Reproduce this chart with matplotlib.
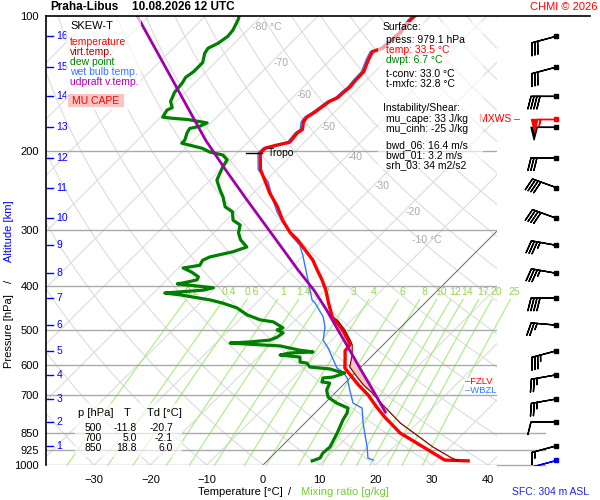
import numpy as np
import matplotlib
matplotlib.use('Agg')
import matplotlib.pyplot as plt
from matplotlib.patches import Rectangle
from matplotlib.ticker import NullLocator

plt.rcParams['font.family'] = ['Liberation Sans', 'DejaVu Sans']

# temperature profile (hPa, °C)
t_p = [100, 102, 109, 118, 120, 125, 133, 139, 144, 148, 152, 155, 159, 164, 168, 172, 179, 182, 191, 194,
       197, 202, 220, 232, 248, 266, 285, 304, 315, 332, 350, 368, 387, 408, 436, 468, 475, 500, 527, 540,
       557, 578, 608, 630, 663, 698, 743, 782, 849, 917, 975, 979]
t_c = [-52.8, -52.9, -52.4, -52.8, -54.0, -53.3, -52.0, -51.9, -51.7, -51.9, -52.0, -52.8, -53.1, -53.5, -54.0,
       -53.8, -52.6, -52.9, -52.6, -54.4, -55.9, -55.9, -52.9, -50.3, -47.1, -43.3, -40.0, -36.4, -33.9, -30.7,
       -27.5, -25.0, -22.4, -19.9, -17.1, -14.0, -13.0, -9.9, -7.1, -5.9, -5.7, -4.4, -2.7, -0.5, 2.7,
       6.2, 9.9, 13.1, 18.7, 25.8, 31.4, 35.7]

# virtual temperature (lower part)
tv_p = [475, 500, 527, 540, 569, 605, 637, 663, 691, 724, 806, 912, 965, 979]
tv_c = [-12.6, -9.5, -6.7, -5.5, -3.7, -2.0, 1.1, 3.6, 6.6, 9.6, 16.9, 27.0, 32.3, 33.9]

# dew point
td_p = [100, 102, 107.5, 111, 115, 118, 121, 127, 133, 137, 141, 148, 151, 155, 160, 162, 168, 169, 170, 173,
        176, 178, 182, 189, 192, 194, 197, 201, 204, 209, 218, 232, 244, 253, 266, 273, 285, 292, 304, 315,
        327, 335, 344, 350, 359, 362, 364, 372, 381, 387, 393, 395, 403, 408, 412, 414, 418, 425, 429, 436,
        447, 463, 475, 480, 495, 500, 508, 519, 527, 532, 535, 540, 543, 555, 560, 563, 569, 575, 590, 593,
        605, 611, 621, 624, 637, 640, 653, 657, 681, 706, 728, 747, 766, 794, 849, 912, 940, 965, 979]
td_c = [-84.0, -83.5, -82.6, -82.4, -82.9, -83.8, -83.5, -82.2, -82.2, -82.6, -82.2, -81.9, -81.5, -81.0, -79.6,
        -80.1, -79.6, -77.6, -74.8, -70.7, -71.4, -72.8, -72.5, -71.6, -71.6, -69.8, -67.1, -65.0, -62.2, -60.6,
        -60.0, -58.8, -56.5, -54.7, -52.6, -50.4, -48.8, -46.7, -45.6, -44.0, -41.6, -43.2, -46.4, -47.1, -46.7,
        -48.1, -49.2, -46.9, -44.9, -44.6, -46.5, -47.4, -40.3, -41.7, -46.0, -48.0, -44.9, -40.9, -38.7, -35.9,
        -32.5, -29.5, -26.3, -23.6, -20.8, -21.5, -19.9, -20.2, -21.0, -24.2, -27.5, -21.8, -18.1, -13.9, -11.2,
        -15.1, -16.5, -12.6, -11.7, -10.3, -9.1, -5.2, -2.8, -1.8, -3.2, -4.8, -4.3, -2.7, -2.0, -0.5,
        2.1, 5.0, 5.7, 6.2, 7.5, 8.7, 8.5, 8.9, 8.0]

# wet bulb temperature
tw_p = [100, 102, 109, 118, 120, 125, 133, 139, 144, 148, 152, 155, 159, 164, 168, 172, 179, 182, 191, 194,
        197, 202, 220, 234, 253, 273, 288, 297, 311, 324, 341, 362, 387, 429, 436, 468, 493, 527, 549, 575,
        608, 621, 640, 681, 728, 747, 806, 849, 912, 965, 975]
tw_c = [-53.2, -53.3, -52.8, -53.2, -54.4, -53.7, -52.4, -52.3, -52.1, -52.3, -52.4, -53.2, -53.5, -53.9, -54.4,
        -54.2, -53.0, -53.3, -53.0, -54.8, -56.3, -56.3, -53.3, -49.4, -46.0, -42.5, -39.6, -37.7, -35.2, -32.5,
        -30.2, -27.7, -24.9, -20.6, -19.5, -15.6, -13.5, -11.5, -9.2, -6.9, -4.1, -2.3, -0.5, 2.1, 5.0,
        7.5, 10.3, 12.4, 15.3, 17.4, 18.7]

# MU parcel (virtual temperature)
pc_p = [100, 125, 154, 189, 220, 257, 315, 368, 408, 452, 500, 555, 614, 681, 762]
pc_c = [-102.1, -90.1, -78.9, -67.9, -59.1, -49.9, -37.7, -28.4, -22.0, -16.2, -10.7, -5.0, 0.5, 6.2, 12.3]

# wind (km levels, then surface)
alt_km = [1, 2, 3, 4, 5, 6, 7, 8, 9, 10, 11, 12, 13, 14, 15, 16]
alt_p = [907, 802, 713, 630, 557, 488, 425, 374, 324, 282, 241, 207, 177, 151, 130, 111]
wdir = [255, 270, 260, 260, 255, 275, 270, 280, 280, 290, 290, 270, 270, 270, 255, 255]
wspd = [15, 10, 25, 25, 35, 25, 40, 35, 35, 40, 40, 30, 50, 40, 30, 30]
sfc_p, sfc_dir, sfc_spd = 975, 255, 5
mxws_p, mxws_dir, mxws_spd = 170, 270, 55

trop_p, trop_t = 202, -55.9
fzlv_p, wbzl_p = 651, 683

tab_p = ['500', '700', '850']
tab_t = ['-11.8', '5.0', '18.8']
tab_td = ['-20.7', '-2.1', '6.0']

p_levels = [100, 200, 300, 400, 500, 600, 700, 850, 925, 1000]
mr_vals = [0.2, 0.4, 0.6, 1, 1.4, 2, 3, 4, 6, 8, 10, 12, 14, 17, 20, 25]
iso_lbl_t = [-80, -70, -60, -50, -40, -30, -20, -10]
iso_lbl_p = [106, 127, 150, 177, 206, 239, 273, 315]
iso_lbl_s = ['-80 °C', '-70', '-60', '-50', '-40', '-30', '-20', '-10 °C']

SKEW = 34.64  # °C of shift per unit ln(1000/p)


def skx(t, p):
    return np.asarray(t, float) + SKEW * np.log(1000.0 / np.asarray(p, float))


def fx(px):
    return px / 600.0


def fy(py):
    return 1 - py / 500.0


fig = plt.figure(figsize=(6, 5), dpi=100)
ax = fig.add_axes([fx(46), fy(465), 451 / 600, 449 / 500])
ax.set_yscale('log')
ax.set_ylim(1000, 100)
ax.set_xlim(-38.54, 41.56)

# background: isotherms, dry adiabats
pp = np.geomspace(1000, 100, 80)
for t0 in range(-130, 50, 10):
    ax.plot(skx(t0, pp), pp, color='#dcdcdc', lw=0.8, zorder=1)
for th in range(-30, 200, 10):
    tt = (th + 273.15) * (pp / 1000.0) ** 0.2857 - 273.15
    ax.plot(skx(tt, pp), pp, color='#dcdcdc', lw=0.8, zorder=1)
ax.plot(skx(0, pp), pp, color='#606060', lw=0.6, zorder=1.3)

# mixing ratio lines
pm = np.geomspace(1000, 428, 40)
for w in mr_vals:
    e = w * pm / (622.0 + w)
    le = np.log(e / 6.112)
    td = 243.5 * le / (17.67 - le)
    ax.plot(skx(td, pm), pm, color='#a6ee7e', lw=0.8, zorder=1.2, clip_on=False)
    e0 = w * 412 / (622.0 + w)
    l0 = np.log(e0 / 6.112)
    ax.text(skx(243.5 * l0 / (17.67 - l0), 412), 412, f'{w:g}', color='#96d650', fontsize=7.5,
            ha='center', va='center', zorder=1.4)

for t, p, s in zip(iso_lbl_t, iso_lbl_p, iso_lbl_s):
    off = -1.0 if t == -10 else 0.3
    ha = 'center' if t == -10 else 'left'
    ax.text(skx(t, p) + off, p, s, color='#a8a8a8', fontsize=7.5, ha=ha, va='center', zorder=1.4)

# isobars
for p in p_levels[1:]:
    ax.axhline(p, color='#aaaaaa', lw=1, zorder=1.5)
for p in p_levels[-3:]:
    ax.plot([41.56, 50.1], [p, p], color='#aaaaaa', lw=1, clip_on=False, zorder=1.5)
ax.plot([-38.54, 58.1], [100, 100], color='k', lw=1.2, clip_on=False, zorder=7)

# CAPE area
pg = np.geomspace(560, 710, 80)
lp = np.log(pg)
tv_i = np.interp(lp, np.log(tv_p), tv_c)
pc_i = np.interp(lp, np.log(pc_p), pc_c)
ax.fill_betweenx(pg, skx(tv_i, pg), skx(pc_i, pg), where=pc_i > tv_i, color='#f6c4c4', zorder=2.5, lw=0)

ax.plot(skx(tw_c, tw_p), tw_p, color='#3377ff', lw=1, zorder=3)
ax.plot(skx(td_c, td_p), td_p, color='#008000', lw=2.3, zorder=4)
ax.plot(skx(t_c, t_p), t_p, color='#ff0000', lw=2.4, zorder=5)
ax.plot(skx(tv_c, tv_p), tv_p, color='#8b0000', lw=0.9, zorder=5.5)
ax.plot(skx(pc_c, pc_p), pc_p, color='#a000a8', lw=2, zorder=6)

# tropopause mark
xt = skx(trop_t, trop_p)
ax.plot([xt - 2.6, xt + 0.4], [trop_p, trop_p], color='k', lw=1, zorder=6.5)
ax.text(xt + 1.3, trop_p, 'Tropo', fontsize=7.5, va='center', ha='left', zorder=6.5)

# altitude ticks
for km, p in zip(alt_km, alt_p):
    ax.plot([-38.3, -37.3], [p, p], color='#0000ff', lw=1, zorder=7, clip_on=False)
    ax.text(-36.7, p, str(km), color='#0000ff', fontsize=7.5, va='center', ha='left', zorder=7)

# FZLV / WBZL
ytr = ax.get_yaxis_transform()
ax.add_patch(Rectangle((0.926, 640), 0.11, 55, transform=ytr, facecolor='white', alpha=0.85,
                       edgecolor='none', zorder=7, clip_on=False))
ax.text(0.929, fzlv_p, '–FZLV', transform=ytr, color='#ff0000', fontsize=6.8, va='center', zorder=8,
        clip_on=False)
ax.text(0.929, wbzl_p, '–WBZL', transform=ytr, color='#3377ff', fontsize=6.8, va='center', zorder=8,
        clip_on=False)

for s in ['top', 'right', 'bottom']:
    ax.spines[s].set_visible(False)
ax.spines['left'].set_linewidth(1.2)
ax.set_yticks(p_levels)
ax.set_yticklabels([str(v) for v in p_levels])
ax.yaxis.set_minor_locator(NullLocator())
ax.set_xticks(list(range(-30, 41, 10)))
ax.tick_params(axis='both', length=0, labelsize=8)
ax.tick_params(axis='y', pad=5)
ax.tick_params(axis='x', pad=7)
ax.set_facecolor('white')

# wind barbs column
axw = fig.add_axes([fx(497), fy(465), 103 / 600, 449 / 500])
axw.set_yscale('log')
axw.set_ylim(1000, 100)
axw.set_xlim(0, 103)
axw.axis('off')
bsz = dict(spacing=0.12, height=0.5, width=0.25)
rad = np.deg2rad(wdir)
u = -np.array(wspd) * np.sin(rad)
v = -np.array(wspd) * np.cos(rad)
xb = np.full(len(alt_p), 59.0)
axw.barbs(xb, alt_p, u, v, length=6, lw=1, color='k', pivot='tip', flip_barb=True, sizes=bsz)
axw.plot(xb, alt_p, 's', ms=2.5, color='k')
rs = np.deg2rad(sfc_dir)
axw.barbs([59.0], [sfc_p], [-sfc_spd * np.sin(rs)], [-sfc_spd * np.cos(rs)], length=6, lw=1,
          color='#0000ee', pivot='tip', flip_barb=True, sizes=bsz)
axw.plot([59.0], [sfc_p], 's', ms=2.5, color='#0000ee')
rm = np.deg2rad(mxws_dir)
axw.barbs([59.0], [mxws_p], [-mxws_spd * np.sin(rm)], [-mxws_spd * np.cos(rm)], length=6, lw=1,
          color='#ff0000', pivot='tip', flip_barb=True, sizes=bsz, zorder=3)
axw.plot([59.0], [mxws_p], 's', ms=2.5, color='#ff0000')
axw.text(23, mxws_p, 'MXWS –', color='#ff0000', fontsize=7.5, ha='right', va='center')

# boxes over the plot
fig.add_artist(Rectangle((fx(66), fy(110)), 75 / 600, 93 / 500, transform=fig.transFigure,
                         facecolor='white', alpha=0.7, edgecolor='none'))
fig.add_artist(Rectangle((fx(378), fy(170)), 105 / 600, 148 / 500, transform=fig.transFigure,
                         facecolor='white', alpha=0.62, edgecolor='none'))
fig.add_artist(Rectangle((fx(75), fy(457)), 107 / 600, 54 / 500, transform=fig.transFigure,
                         facecolor='white', alpha=0.65, edgecolor='none'))
fig.add_artist(Rectangle((fx(68), fy(107)), 56 / 600, 13 / 500, transform=fig.transFigure,
                         facecolor='#f8c4c4', edgecolor='none'))

leg = [('SKEW-T', 'black', 26), ('temperature', '#ff0000', 42), ('virt.temp.', '#a00000', 52),
       ('dew point', '#008000', 62), ('wet bulb temp.', '#3377ff', 72), ('udpraft v.temp.', '#b000b8', 82)]
for s, c, y in leg:
    fig.text(fx(70), fy(y), s, color=c, fontsize=7.5 if y > 30 else 8, va='center', ha='left')
fig.text(fx(96), fy(101), 'MU CAPE', color='#ff0000', fontsize=7.5, va='center', ha='center')

info = [('Surface:', 'black', 383, 27), ('press: 979.1 hPa', 'black', 386, 40),
        ('temp: 33.5 °C', '#ff0000', 386, 50), ('dwpt: 6.7 °C', '#008000', 386, 60),
        ('t-conv: 33.0 °C', 'black', 386, 74), ('t-mxfc: 32.8 °C', 'black', 386, 84),
        ('Instability/Shear:', 'black', 383, 108), ('mu_cape: 33 J/kg', 'black', 386, 119),
        ('mu_cinh: -25 J/kg', 'black', 386, 129), ('bwd_06: 16.4 m/s', 'black', 386, 145),
        ('bwd_01: 3.2 m/s', 'black', 386, 155), ('srh_03: 34 m2/s2', 'black', 386, 165)]
for s, c, x, y in info:
    fig.text(fx(x), fy(y), s, color=c, fontsize=7.5, va='center', ha='left')

fig.text(fx(78), fy(413), 'p [hPa]', fontsize=8, va='center', ha='left')
fig.text(fx(127), fy(413), 'T', fontsize=8, va='center', ha='center')
fig.text(fx(147), fy(413), 'Td [°C]', fontsize=8, va='center', ha='left')
for i in range(len(tab_p)):
    y = 428 + 10 * i
    fig.text(fx(102), fy(y), tab_p[i], fontsize=7.5, va='center', ha='right')
    fig.text(fx(137), fy(y), tab_t[i], fontsize=7.5, va='center', ha='right')
    fig.text(fx(173), fy(y), tab_td[i], fontsize=7.5, va='center', ha='right')

# titles and axis labels
fig.text(fx(50), fy(7), 'Praha-Libus', fontsize=8.5, fontweight='bold', va='center', ha='left')
fig.text(fx(132), fy(7), '10.08.2026 12 UTC', fontsize=8.5, fontweight='bold', va='center', ha='left')
fig.text(fx(597), fy(7), 'CHMI © 2026', color='#ff0000', fontsize=8, va='center', ha='right')
fig.text(fx(9), fy(331), 'Pressure [hPa]', fontsize=8, rotation=90, va='center', ha='center')
fig.text(fx(9), fy(281), '/', fontsize=8, rotation=90, va='center', ha='center')
fig.text(fx(9), fy(231), 'Altitude [km]', color='#0000ff', fontsize=8, rotation=90, va='center', ha='center')
fig.text(fx(240), fy(492), 'Temperature [°C]', fontsize=8, va='center', ha='center')
fig.text(fx(290), fy(492), '/', fontsize=8, va='center', ha='center')
fig.text(fx(345), fy(492), 'Mixing ratio [g/kg]', color='#77cc33', fontsize=8, va='center', ha='center')
fig.text(fx(551), fy(492), 'SFC: 304 m ASL', color='#2222dd', fontsize=7.5, va='center', ha='center')

fig.savefig('out.png', dpi=100, facecolor='white')
